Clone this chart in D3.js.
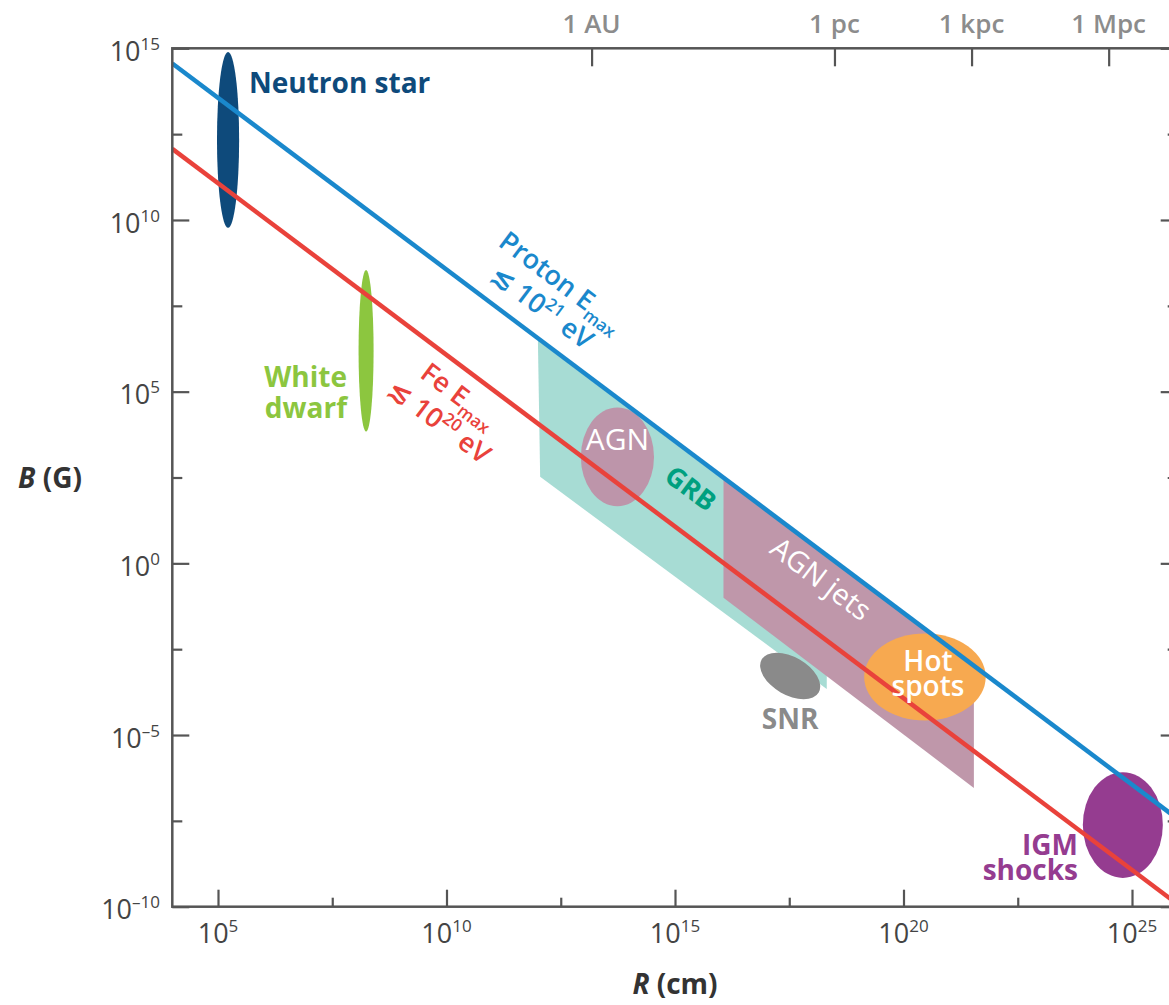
<!DOCTYPE html>
<html>
<head>
<meta charset="utf-8">
<script src="https://cdn.jsdelivr.net/npm/d3@7"></script>
<style>
body{margin:0;background:#fff;}
svg{display:block;font-family:"Open Sans",sans-serif;}
</style>
</head>
<body>
<svg id="chart" width="1169" height="1005"></svg>
<script>
//Tick values and labels
var xMajor    = [1e5, 1e10, 1e15, 1e20, 1e25];
var xExp      = ['5', '10', '15', '20', '25'];
var xMinor    = [3.162e7, 3.162e12, 3.162e17, 3.162e22];
var yMajor    = [1e15, 1e10, 1e5, 1, 1e-5, 1e-10];
var yExp      = ['15', '10', '5', '0', '\u20135', '\u201310'];
var yMinor    = [3.162e12, 3.162e7, 316.2, 3.162e-3, 3.162e-8];
var topNames  = ['1 AU', '1 pc', '1 kpc', '1 Mpc'];
var topValues = [1.496e13, 3.086e18, 3.086e21, 3.086e24];

//Hillas lines [R, B]
var protonLine = [[1e4, 3.6e14], [1e26, 3.6e-8]];
var feLine     = [[1e4, 1.18e12], [1e26, 1.18e-10]];

//Source regions [R, B]
var grbRegion = [[1e12, 3.16e6], [1.12e12, 331], [2.09e18, 2.19e-4], [2.09e18, 1.5]];
var jetRegion = [[1.15e16, 302], [1.15e16, 0.1], [3.47e21, 2.88e-7], [3.47e21, 1.05e-3]];

//Source ellipses: R range, B range
var ellNames = ['AGN', 'SNR', 'Hot spots', 'IGM shocks', 'Neutron star', 'White dwarf'];
var ellR = [[8.7e12, 3.47e14], [6.3e16, 1.74e18], [1.38e19, 6.3e21], [8.4e23, 4.73e25], [9.5e4, 2.9e5], [1.19e8, 2.54e8]];
var ellB = [[45.7, 3.47e4], [1.47e-4, 1.87e-3], [2.63e-5, 9.1e-3], [6.9e-10, 8.3e-7], [5.9e9, 7.8e14], [6.9e3, 3.47e8]];

var colors = {
     'AGN'          : '#bd95aa'
    ,'SNR'          : '#8a8a8a'
    ,'Hot spots'    : '#f7a950'
    ,'IGM shocks'   : '#953c90'
    ,'Neutron star' : '#0e4a7b'
    ,'White dwarf'  : '#8cc63f'
};

var svg = d3.select('#chart');
var x = d3.scaleLog().domain([1e4, 1e26]).range([172.3, 1177.7]);
var y = d3.scaleLog().domain([1e-10, 1e15]).range([906.7, 48.3]);
var axisColor = '#555';

svg.append('clipPath').attr('id', 'plot')
    .append('rect').attr('x', 172.3).attr('y', 48.3).attr('width', 1005.4).attr('height', 858.4);

var plot = svg.append('g').attr('clip-path', 'url(#plot)');
var line = d3.line().x(function(d){ return x(d[0]); }).y(function(d){ return y(d[1]); });

//Regions
plot.append('path').attr('d', line(grbRegion) + 'Z').attr('fill', '#a7dcd4');
plot.append('path').attr('d', line(jetRegion) + 'Z').attr('fill', '#bf97aa');

//Ellipses
var ell = {};
ellNames.forEach(function(n, i){
    var x0 = x(ellR[i][0]), x1 = x(ellR[i][1]);
    var y0 = y(ellB[i][0]), y1 = y(ellB[i][1]);
    var e = {cx:(x0+x1)/2, cy:(y0+y1)/2, rx:Math.abs(x1-x0)/2, ry:Math.abs(y1-y0)/2};
    ell[n] = e;
    var el = plot.append('ellipse')
        .attr('cx', e.cx).attr('cy', e.cy).attr('rx', e.rx).attr('ry', e.ry)
        .attr('fill', colors[n]);
    if (n == 'SNR')
    {
        el.attr('transform', 'rotate(30,' + e.cx + ',' + e.cy + ')');
    }
});

//Lines
plot.append('path').attr('d', line(protonLine)).attr('stroke', '#1a88cc').attr('stroke-width', 4.5).attr('fill', 'none');
plot.append('path').attr('d', line(feLine)).attr('stroke', '#e9423b').attr('stroke-width', 4.5).attr('fill', 'none');

//Axes
function styleAxis(g)
{
    g.select('.domain').remove();
    g.selectAll('line').attr('stroke', axisColor).attr('stroke-width', 2.2);
    g.selectAll('text').remove();
}
svg.append('g').attr('transform', 'translate(0,906.7)')
    .call(d3.axisBottom(x).tickValues(xMajor).tickSize(-17).tickFormat('')).call(styleAxis);
svg.append('g').attr('transform', 'translate(0,906.7)')
    .call(d3.axisBottom(x).tickValues(xMinor).tickSize(-9).tickFormat('')).call(styleAxis);
svg.append('g').attr('transform', 'translate(172.3,0)')
    .call(d3.axisLeft(y).tickValues(yMajor).tickSize(-17).tickFormat('')).call(styleAxis);
svg.append('g').attr('transform', 'translate(172.3,0)')
    .call(d3.axisLeft(y).tickValues(yMinor).tickSize(-10).tickFormat('')).call(styleAxis);
svg.append('g').attr('transform', 'translate(1177.7,0)')
    .call(d3.axisRight(y).tickValues(yMajor).tickSize(-17).tickFormat('')).call(styleAxis);
svg.append('g').attr('transform', 'translate(1177.7,0)')
    .call(d3.axisRight(y).tickValues(yMinor).tickSize(-10).tickFormat('')).call(styleAxis);
svg.append('g').attr('transform', 'translate(0,48.3)')
    .call(d3.axisTop(x).tickValues(topValues).tickSize(-18).tickFormat('')).call(styleAxis);

svg.append('rect').attr('x', 172.3).attr('y', 48.3).attr('width', 1005.4).attr('height', 858.4)
    .attr('fill', 'none').attr('stroke', axisColor).attr('stroke-width', 2.5);

//Tick labels
function powLabel(t, exp)
{
    t.append('tspan').text('10');
    t.append('tspan').attr('font-size', 17).attr('dy', -11).text(exp);
}
svg.selectAll('.xlab').data(xMajor).enter().append('text')
    .attr('x', function(d){ return x(d); }).attr('y', 943)
    .attr('text-anchor', 'middle').attr('font-size', 27).attr('fill', '#444')
    .each(function(d, i){ powLabel(d3.select(this), xExp[i]); });
svg.selectAll('.ylab').data(yMajor).enter().append('text')
    .attr('x', 160).attr('y', function(d){ return y(d) + 12.7; })
    .attr('text-anchor', 'end').attr('font-size', 27).attr('fill', '#444')
    .each(function(d, i){ powLabel(d3.select(this), yExp[i]); });
svg.selectAll('.toplab').data(topValues).enter().append('text')
    .attr('x', function(d){ return x(d); }).attr('y', 33)
    .attr('text-anchor', 'middle').attr('font-size', 26).attr('font-weight', 600).attr('fill', '#8c8c8c')
    .text(function(d, i){ return topNames[i]; });

//Axis titles
var bt = svg.append('text').attr('x', 18).attr('y', 488).attr('font-size', 28).attr('font-weight', 700).attr('fill', '#333');
bt.append('tspan').attr('font-style', 'italic').text('B');
bt.append('tspan').text(' (G)');
var rt = svg.append('text').attr('x', x(1e15)).attr('y', 994).attr('text-anchor', 'middle')
    .attr('font-size', 28).attr('font-weight', 700).attr('fill', '#333');
rt.append('tspan').attr('font-style', 'italic').text('R');
rt.append('tspan').text(' (cm)');

//Labels along the Hillas lines
var ang = Math.atan2(y(1e-5) - y(1e5), x(1e20) - x(1e10)) * 180 / Math.PI;
function lineLabel(BR, r, color, rows)
{
    var g = svg.append('g')
        .attr('transform', 'translate(' + x(r) + ',' + y(BR / r) + ') rotate(' + ang + ')')
        .attr('fill', color).attr('font-size', 27).attr('font-weight', 600).attr('text-anchor', 'middle');
    rows.forEach(function(row){
        var t = g.append('text').attr('y', row.y);
        t.append('tspan').text(row.a);
        t.append('tspan').attr('font-size', 17).attr('dy', row.s).text(row.b);
        if (row.c) t.append('tspan').attr('dy', -row.s).text(row.c);
    });
}
lineLabel(3.6e18, 5.4e11, '#1a88cc', [
     {y:-50, a:'Proton E', b:'max', s:7}
    ,{y:-18, a:'\u2272 10', b:'21', s:-11, c:' eV'}
]);
lineLabel(1.18e16, 4.0e10, '#e9423b', [
     {y:34, a:'Fe E', b:'max', s:7}
    ,{y:67, a:'\u2272 10', b:'20', s:-11, c:' eV'}
]);

//Source labels (multi-line labels are one text with tspans)
function label(tx, ty, rows, color, opts)
{
    opts = opts || {};
    var t = svg.append('text').attr('x', tx).attr('y', ty)
        .attr('fill', color).attr('font-size', opts.size || 28)
        .attr('font-weight', opts.weight || 700)
        .attr('text-anchor', opts.anchor || 'start');
    rows.forEach(function(r, i){
        t.append('tspan').attr('x', tx).attr('dy', i ? (opts.lh || 31) : 0).text(r);
    });
    if (opts.rot) t.attr('transform', 'rotate(' + opts.rot + ',' + tx + ',' + ty + ')').attr('dy', '0.35em');
    return t;
}
label(249, 93, ['Neutron star'], colors['Neutron star']);
label(347, 387, ['White', 'dwarf'], colors['White dwarf'], {anchor:'end', lh:31});
label(ell['AGN'].cx, ell['AGN'].cy - 7, ['AGN'], '#fff', {anchor:'middle', size:30, weight:400});
label(x(1.66e15), y(91), ['GRB'], '#00a07f', {anchor:'middle', size:27, rot:ang});
label(x(1.15e18), y(0.204), ['AGN jets'], '#fff', {anchor:'middle', size:29, weight:400, rot:ang});
label(ell['Hot spots'].cx + 3, ell['Hot spots'].cy - 6, ['Hot', 'spots'], '#fff', {anchor:'middle', size:28, weight:600, lh:25});
label(ell['SNR'].cx, 729, ['SNR'], colors['SNR'], {anchor:'middle'});
label(1078, 855, ['IGM', 'shocks'], colors['IGM shocks'], {anchor:'end', lh:25});
</script>
</body>
</html>
